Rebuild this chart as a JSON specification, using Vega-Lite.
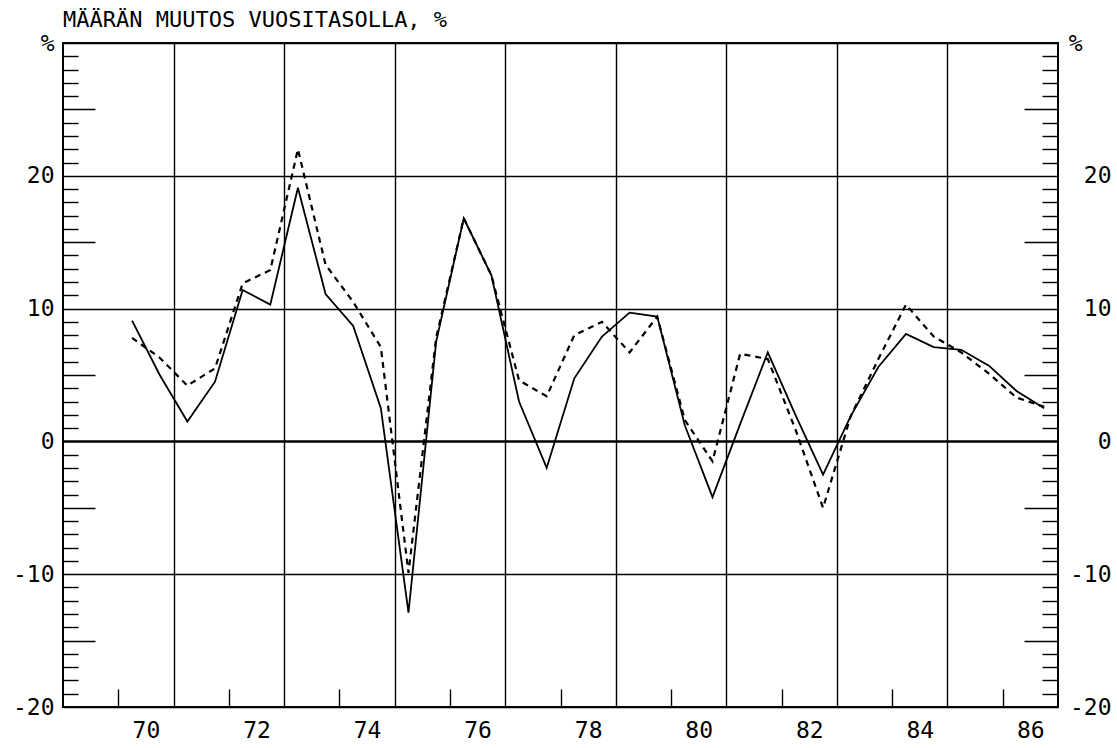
{
  "$schema": "https://vega.github.io/schema/vega-lite/v6.json",
  "autosize": {"type": "none"},
  "padding": {"left": 63, "top": 43, "right": 59, "bottom": 41},
  "width": 995,
  "height": 664,
  "background": "white",
  "title": {
    "text": "MÄÄRÄN MUUTOS VUOSITASOLLA, %",
    "anchor": "start",
    "frame": "group",
    "font": "DejaVu Sans Mono",
    "fontSize": 22,
    "fontWeight": "normal",
    "color": "black",
    "offset": 0
  },
  "config": {
    "view": {"stroke": "black", "strokeWidth": 2},
    "font": "DejaVu Sans Mono",
    "axis": {
      "title": null,
      "domain": false,
      "labelFont": "DejaVu Sans Mono",
      "labelFontSize": 23,
      "labelColor": "black",
      "labelOverlap": false,
      "labelBound": false,
      "labelFlush": false,
      "tickColor": "black",
      "tickWidth": 1.4,
      "gridColor": "black",
      "gridWidth": 1.4
    }
  },
  "data": {
    "values": [
      {"t": 1970.25, "a": 9.1, "b": 7.8},
      {"t": 1970.75, "a": 5.0, "b": 6.3},
      {"t": 1971.25, "a": 1.5, "b": 4.2},
      {"t": 1971.75, "a": 4.5, "b": 5.5},
      {"t": 1972.25, "a": 11.4, "b": 11.9},
      {"t": 1972.75, "a": 10.3, "b": 12.9},
      {"t": 1973.25, "a": 19.1, "b": 22.0},
      {"t": 1973.75, "a": 11.1, "b": 13.3},
      {"t": 1974.25, "a": 8.7, "b": 10.5},
      {"t": 1974.75, "a": 2.5, "b": 7.1},
      {"t": 1975.25, "a": -12.9, "b": -9.9},
      {"t": 1975.75, "a": 7.5, "b": 7.8},
      {"t": 1976.25, "a": 16.8, "b": 16.8},
      {"t": 1976.75, "a": 12.5, "b": 12.5},
      {"t": 1977.25, "a": 3.0, "b": 4.6},
      {"t": 1977.75, "a": -2.0, "b": 3.4},
      {"t": 1978.25, "a": 4.75, "b": 8.0},
      {"t": 1978.75, "a": 7.9, "b": 9.0},
      {"t": 1979.25, "a": 9.7, "b": 6.7},
      {"t": 1979.75, "a": 9.4, "b": 9.4},
      {"t": 1980.25, "a": 1.2, "b": 1.6},
      {"t": 1980.75, "a": -4.2, "b": -1.5},
      {"t": 1981.25, "a": 1.3, "b": 6.6},
      {"t": 1981.75, "a": 6.7, "b": 6.2},
      {"t": 1982.25, "a": 2.0, "b": 0.9},
      {"t": 1982.75, "a": -2.5, "b": -5.0},
      {"t": 1983.25, "a": 1.9, "b": 1.9},
      {"t": 1983.75, "a": 5.6, "b": 6.2},
      {"t": 1984.25, "a": 8.1, "b": 10.3},
      {"t": 1984.75, "a": 7.1, "b": 7.9},
      {"t": 1985.25, "a": 6.9, "b": 6.7},
      {"t": 1985.75, "a": 5.7, "b": 5.1},
      {"t": 1986.25, "a": 3.8, "b": 3.3},
      {"t": 1986.75, "a": 2.5, "b": 2.6}
    ]
  },
  "layer": [
    {
      "mark": {"type": "line", "color": "black", "strokeWidth": 1.8},
      "encoding": {
        "x": {
          "field": "t",
          "type": "quantitative",
          "scale": {"domain": [1969, 1987], "nice": false, "zero": false},
          "axis": {
            "orient": "bottom",
            "values": [1970.5, 1972.5, 1974.5, 1976.5, 1978.5, 1980.5, 1982.5, 1984.5, 1986.5],
            "ticks": false,
            "grid": false,
            "labelExpr": "substring(toString(datum.value), 2, 4)",
            "labelPadding": 12
          }
        },
        "y": {
          "field": "a",
          "type": "quantitative",
          "scale": {"domain": [-20, 30], "nice": false, "zero": false},
          "axis": {
            "orient": "left",
            "values": [-20, -10, 0, 10, 20, 30],
            "ticks": false,
            "grid": true,
            "gridWidth": {"condition": {"test": "datum.value === 0", "value": 2.4}, "value": 1.4},
            "labelExpr": "datum.value === 30 ? '%' : toString(datum.value)",
            "labelPadding": 9
          }
        }
      }
    },
    {
      "mark": {"type": "line", "color": "black", "strokeWidth": 2.2, "strokeDash": [6, 5]},
      "encoding": {
        "x": {"field": "t", "type": "quantitative", "axis": null},
        "y": {
          "field": "b",
          "type": "quantitative",
          "axis": {
            "orient": "right",
            "values": [-20, -10, 0, 10, 20],
            "ticks": false,
            "grid": false,
            "labelExpr": "toString(datum.value)",
            "labelAlign": "right",
            "labelPadding": 53
          }
        }
      }
    },
    {
      "mark": {"type": "line", "strokeOpacity": 0},
      "encoding": {
        "x": {
          "field": "t",
          "type": "quantitative",
          "axis": {
            "orient": "bottom",
            "values": [1970, 1972, 1974, 1976, 1978, 1980, 1982, 1984, 1986],
            "ticks": true,
            "tickSize": -18,
            "labels": false,
            "grid": false
          }
        },
        "y": {
          "field": "a",
          "type": "quantitative",
          "axis": {
            "orient": "right",
            "values": [30],
            "ticks": false,
            "grid": false,
            "labelExpr": "'%'",
            "labelAlign": "right",
            "labelPadding": 24
          }
        }
      }
    },
    {
      "mark": {"type": "line", "strokeOpacity": 0},
      "encoding": {
        "x": {
          "field": "t",
          "type": "quantitative",
          "axis": {
            "orient": "bottom",
            "values": [1971, 1973, 1975, 1977, 1979, 1981, 1983, 1985],
            "ticks": false,
            "labels": false,
            "grid": true
          }
        },
        "y": {
          "field": "a",
          "type": "quantitative",
          "axis": {
            "orient": "left",
            "values": [-19,-18,-17,-16,-14,-13,-12,-11,-9,-8,-7,-6,-4,-3,-2,-1,1,2,3,4,6,7,8,9,11,12,13,14,16,17,18,19,21,22,23,24,26,27,28,29],
            "ticks": true,
            "tickSize": -15,
            "labels": false,
            "grid": false
          }
        }
      }
    },
    {
      "mark": {"type": "line", "strokeOpacity": 0},
      "encoding": {
        "x": {"field": "t", "type": "quantitative", "axis": null},
        "y": {
          "field": "a",
          "type": "quantitative",
          "axis": {
            "orient": "left",
            "values": [-15, -5, 5, 15, 25],
            "ticks": true,
            "tickSize": -32,
            "labels": false,
            "grid": false
          }
        }
      }
    },
    {
      "mark": {"type": "line", "strokeOpacity": 0},
      "encoding": {
        "x": {"field": "t", "type": "quantitative", "axis": null},
        "y": {
          "field": "a",
          "type": "quantitative",
          "axis": {
            "orient": "right",
            "values": [-19,-18,-17,-16,-14,-13,-12,-11,-9,-8,-7,-6,-4,-3,-2,-1,1,2,3,4,6,7,8,9,11,12,13,14,16,17,18,19,21,22,23,24,26,27,28,29],
            "ticks": true,
            "tickSize": -16,
            "labels": false,
            "grid": false
          }
        }
      }
    },
    {
      "mark": {"type": "line", "strokeOpacity": 0},
      "encoding": {
        "x": {"field": "t", "type": "quantitative", "axis": null},
        "y": {
          "field": "a",
          "type": "quantitative",
          "axis": {
            "orient": "right",
            "values": [-15, -5, 5, 15, 25],
            "ticks": true,
            "tickSize": -34,
            "labels": false,
            "grid": false
          }
        }
      }
    }
  ],
  "resolve": {"axis": {"x": "independent", "y": "independent"}}
}
